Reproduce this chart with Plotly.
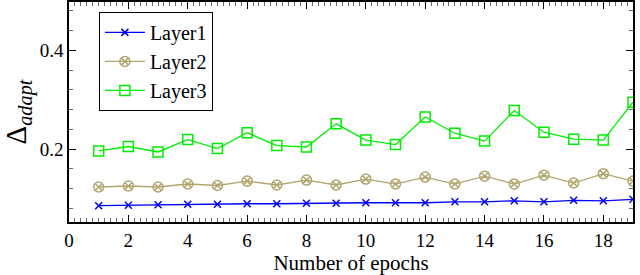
import plotly.graph_objects as go

epochs = list(range(1, 20))
layer1 = [0.085, 0.086, 0.087, 0.088, 0.088, 0.089, 0.089, 0.090, 0.090, 0.091,
          0.091, 0.091, 0.093, 0.093, 0.095, 0.093, 0.096, 0.095, 0.098]
layer2 = [0.123, 0.125, 0.123, 0.129, 0.126, 0.135, 0.127, 0.137, 0.127, 0.139,
          0.129, 0.143, 0.129, 0.145, 0.129, 0.147, 0.131, 0.150, 0.135]
layer3 = [0.196, 0.205, 0.194, 0.219, 0.201, 0.233, 0.207, 0.204, 0.251, 0.218,
          0.209, 0.265, 0.232, 0.216, 0.278, 0.234, 0.220, 0.218, 0.295]
names = ["Layer1", "Layer2", "Layer3"]
colors = ["#0000ff", "#b3a56e", "#00ee00"]
symbols = ["x-thin-open", "circle-x-open", "square-open"]

fig = go.Figure()
for name, ys, c, s in zip(names, [layer1, layer2, layer3], colors, symbols):
    fig.add_trace(go.Scatter(
        x=epochs, y=ys, name=name, mode="lines+markers", legendgroup=name,
        line=dict(color=c, width=1.3),
        marker=dict(symbol=s, size=10 if s != "x-thin-open" else 7,
                    color=c, line=dict(color=c, width=1.5)),
    ))

font = "Liberation Serif, Times New Roman, serif"
axis_common = dict(
    showline=True, linecolor="black", linewidth=1.5, mirror="ticks",
    ticks="inside", ticklen=7, tickcolor="black", tickwidth=1,
    showgrid=False, zeroline=False,
    tickfont=dict(family=font, size=19, color="black"),
)
fig.update_xaxes(range=[0, 19], dtick=2, tick0=0,
                 minor=dict(dtick=0.2, ticks="inside", ticklen=4, tickcolor="#666", tickwidth=0.8),
                 title=dict(text="Number of epochs", font=dict(family=font, size=21, color="black"), standoff=3),
                 **axis_common)
fig.update_yaxes(range=[0.052, 0.498], dtick=0.2, tick0=0, tickformat=".1f",
                 minor=dict(dtick=0.04, ticks="inside", ticklen=4, tickcolor="#666", tickwidth=0.8),
                 title=dict(text="Δ<sub><i>adapt</i></sub>", font=dict(family=font, size=29, color="black"), standoff=14),
                 **axis_common)
fig.update_layout(
    width=640, height=275,
    margin=dict(l=69, r=7, t=2, b=53, autoexpand=False),
    plot_bgcolor="white", paper_bgcolor="white",
    showlegend=True,
    legend=dict(x=0.053, y=0.955, xanchor="left", yanchor="top",
                bordercolor="black", borderwidth=1, bgcolor="white",
                font=dict(family=font, size=20, color="black"),
                itemwidth=40, tracegroupgap=0),
)
fig.write_html("out.html", config={"displayModeBar": False},
               post_script="document.body.style.margin='0px';")
